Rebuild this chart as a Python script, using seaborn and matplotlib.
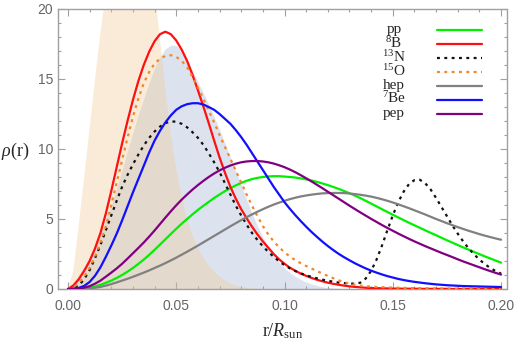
import matplotlib
matplotlib.use("Agg")
import numpy as np
import pandas as pd
import matplotlib.pyplot as plt
from matplotlib.lines import Line2D
from matplotlib.ticker import MultipleLocator, FormatStrFormatter
import seaborn as sns


# Radius grid r/R_sun (sampling points of the read-off curves)
r = np.linspace(0.0, 0.2, 81)

# Neutrino production densities rho(r)
pp = [0, 0.005, 0.02, 0.05, 0.1, 0.18, 0.3, 0.44, 0.6, 0.79,
      1.0, 1.24, 1.5, 1.79, 2.1, 2.44, 2.8, 3.17, 3.55, 3.93,
      4.3, 4.66, 5.0, 5.33, 5.65, 5.94, 6.22, 6.5, 6.75, 6.99,
      7.2, 7.4, 7.58, 7.73, 7.85, 7.94, 8.0, 8.04, 8.06, 8.06,
      8.03, 8.0, 7.96, 7.9, 7.83, 7.75, 7.65, 7.54, 7.42, 7.29,
      7.15, 7.0, 6.84, 6.67, 6.49, 6.3, 6.1, 5.9, 5.7, 5.5,
      5.3, 5.11, 4.92, 4.73, 4.55, 4.37, 4.19, 4.01, 3.84, 3.66,
      3.48, 3.31, 3.14, 2.97, 2.81, 2.65, 2.49, 2.33, 2.18, 2.03, 1.88]
b8 = [0, 0.25, 0.7, 1.3, 2.0, 2.9, 4.0, 5.4, 7.0, 8.7,
      10.4, 12.0, 13.5, 14.85, 16.0, 16.95, 17.7, 18.2, 18.38, 18.2,
      17.75, 17.1, 16.3, 15.3, 14.2, 13.05, 11.85, 10.6, 9.4, 8.3,
      7.3, 6.45, 5.7, 5.05, 4.45, 3.9, 3.4, 2.95, 2.5, 2.12,
      1.8, 1.52, 1.3, 1.1, 0.94, 0.79, 0.66, 0.55, 0.45, 0.37,
      0.3, 0.24, 0.19, 0.15, 0.12, 0.09, 0.07, 0.06, 0.05, 0.04,
      0.03, 0.03, 0.02, 0.02, 0.02, 0.01, 0.01, 0.01, 0.01, 0.01,
      0.01, 0, 0, 0, 0, 0, 0, 0, 0, 0, 0]
n13 = [0, 0.05, 0.25, 0.7, 1.35, 2.2, 3.15, 4.2, 5.25, 6.3,
       7.3, 8.15, 8.9, 9.6, 10.25, 10.8, 11.25, 11.6, 11.85, 11.97,
       11.95, 11.8, 11.55, 11.2, 10.8, 10.3, 9.7, 9.05, 8.35, 7.55,
       6.75, 5.95, 5.25, 4.6, 4.0, 3.5, 3.05, 2.65, 2.3, 1.98,
       1.7, 1.47, 1.28, 1.12, 0.98, 0.86, 0.76, 0.67, 0.59, 0.52,
       0.46, 0.42, 0.39, 0.38, 0.45, 0.75, 1.3, 2.1, 3.1, 4.2,
       5.25, 6.2, 6.95, 7.5, 7.78, 7.8, 7.55, 7.1, 6.5, 5.85,
       5.2, 4.55, 3.95, 3.4, 2.9, 2.48, 2.1, 1.78, 1.5, 1.28, 1.1]
o15 = [0, 0.13, 0.42, 0.88, 1.5, 2.3, 3.3, 4.5, 6.0, 7.6,
       9.2, 10.8, 12.3, 13.6, 14.7, 15.5, 16.1, 16.45, 16.65, 16.7,
       16.58, 16.3, 15.85, 15.15, 14.4, 13.6, 12.75, 11.9, 11.0, 10.15,
       9.3, 8.45, 7.6, 6.75, 5.95, 5.2, 4.5, 3.9, 3.4, 2.98,
       2.62, 2.32, 2.06, 1.84, 1.64, 1.46, 1.28, 1.1, 0.93, 0.77,
       0.62, 0.49, 0.38, 0.3, 0.24, 0.2, 0.17, 0.15, 0.13, 0.11,
       0.1, 0.09, 0.08, 0.07, 0.06, 0.06, 0.05, 0.05, 0.04, 0.04,
       0.04, 0.03, 0.03, 0.03, 0.03, 0.02, 0.02, 0.02, 0.02, 0.02, 0.02]
hep = [0, 0.0, 0.01, 0.03, 0.05, 0.09, 0.15, 0.24, 0.35, 0.47,
       0.6, 0.73, 0.87, 1.02, 1.17, 1.33, 1.5, 1.67, 1.85, 2.04,
       2.24, 2.45, 2.66, 2.88, 3.1, 3.33, 3.56, 3.79, 4.02, 4.25,
       4.48, 4.7, 4.92, 5.13, 5.33, 5.52, 5.7, 5.87, 6.03, 6.17,
       6.3, 6.42, 6.52, 6.61, 6.68, 6.74, 6.79, 6.83, 6.85, 6.86,
       6.86, 6.85, 6.82, 6.78, 6.73, 6.67, 6.6, 6.51, 6.41, 6.3,
       6.18, 6.05, 5.91, 5.77, 5.62, 5.47, 5.32, 5.16, 5.0, 4.85,
       4.7, 4.56, 4.42, 4.29, 4.16, 4.04, 3.92, 3.81, 3.71, 3.61, 3.52]
be7 = [0, 0.02, 0.08, 0.22, 0.5, 0.95, 1.55, 2.3, 3.1, 3.95,
       4.9, 5.9, 6.9, 7.85, 8.8, 9.75, 10.6, 11.3, 11.9, 12.4,
       12.8, 13.05, 13.2, 13.27, 13.27, 13.18, 13.0, 12.8, 12.5, 12.15,
       11.8, 11.35, 10.85, 10.3, 9.7, 9.1, 8.5, 7.9, 7.3, 6.75,
       6.2, 5.72, 5.27, 4.85, 4.45, 4.07, 3.72, 3.38, 3.07, 2.78,
       2.51, 2.27, 2.05, 1.84, 1.65, 1.47, 1.31, 1.17, 1.04, 0.92,
       0.82, 0.72, 0.64, 0.57, 0.51, 0.46, 0.41, 0.37, 0.33, 0.3,
       0.27, 0.25, 0.23, 0.21, 0.2, 0.19, 0.18, 0.17, 0.16, 0.15, 0.14]
pep = [0, 0.005, 0.03, 0.1, 0.2, 0.38, 0.6, 0.88, 1.17, 1.47,
       1.8, 2.17, 2.55, 2.93, 3.32, 3.74, 4.18, 4.64, 5.1, 5.55,
       5.98, 6.38, 6.75, 7.1, 7.42, 7.72, 8.0, 8.25, 8.47, 8.66,
       8.82, 8.95, 9.05, 9.11, 9.14, 9.14, 9.11, 9.05, 8.96, 8.84,
       8.7, 8.53, 8.34, 8.13, 7.91, 7.68, 7.44, 7.2, 6.95, 6.7,
       6.45, 6.2, 5.95, 5.71, 5.47, 5.24, 5.01, 4.79, 4.57, 4.36,
       4.16, 3.96, 3.77, 3.58, 3.4, 3.23, 3.06, 2.9, 2.74, 2.58,
       2.43, 2.28, 2.12, 1.97, 1.83, 1.69, 1.55, 1.41, 1.28, 1.15, 1.03]

# Shaded background distributions
shade_tan = [0, 1.3, 4.6, 8.0, 11.5, 15.0, 18.3, 21.2, 23.6, 25.5,
             27.0, 27.9, 28.2, 27.8, 26.6, 24.5, 21.5, 17.8, 14.2, 11.1,
             8.6, 6.6, 5.0, 3.85, 2.95, 2.25, 1.7, 1.25, 0.9, 0.62,
             0.4, 0.25, 0.15, 0.08, 0.04, 0.02] + [0] * 45
shade_blue = [0, 0.45, 1.0, 1.6, 2.3, 3.1, 4.0, 4.95, 6.0, 7.2,
              8.5, 9.85, 11.2, 12.45, 13.6, 14.75, 15.8, 16.6, 17.15, 17.42,
              17.4, 17.0, 16.3, 15.6, 14.8, 14.0, 13.2, 12.3, 11.4, 10.4,
              9.4, 8.4, 7.4, 6.4, 5.4, 4.5, 3.7, 3.0, 2.4, 1.9,
              1.5, 1.17, 0.9, 0.68, 0.5, 0.36, 0.25, 0.16, 0.1, 0.07,
              0.05, 0.03, 0.02, 0.01] + [0] * 27

labels = ["pp", "$^{8}$B", "$^{13}$N", "$^{15}$O", "hep", "$^{7}$Be", "pep"]
series = [pp, b8, n13, o15, hep, be7, pep]
colors = ["#00f000", "#ff1010", "#111111", "#f0882a", "#808080", "#1010ff", "#800080"]
dotted = [False, False, True, True, False, False, False]

for vals in series + [shade_tan, shade_blue]:
    assert len(vals) == len(r)

df = pd.concat(
    [pd.DataFrame({"r": r, "rho": vals, "source": lab})
     for lab, vals in zip(labels, series)],
    ignore_index=True
)

sns.set_style("ticks")
plt.rcParams["font.family"] = ["Liberation Sans", "DejaVu Sans"]
plt.rcParams["mathtext.fontset"] = "custom"
plt.rcParams["mathtext.rm"] = "Liberation Serif"
plt.rcParams["mathtext.it"] = "Liberation Serif:italic"

fig = plt.figure(figsize=(5.18, 3.41), dpi=100)
ax = fig.add_axes([58 / 518, 52 / 341, 448.5 / 518, 280 / 341])

# background fills
ax.fill_between(r, shade_blue, color="#8fa3c7", alpha=0.3, lw=0, zorder=1)
ax.fill_between(r, shade_tan, color="#f0c890", alpha=0.35, lw=0, zorder=1.1)

lw = 1.6
dash_map = {lab: ((1.3, 2.0) if d else "") for lab, d in zip(labels, dotted)}
sns.lineplot(
    data=df, x="r", y="rho", hue="source", style="source",
    palette=dict(zip(labels, colors)), dashes=dash_map,
    hue_order=labels, style_order=labels,
    lw=lw, legend=False, sort=False, ax=ax, zorder=3
)
for line in ax.get_lines():
    line.set_dash_capstyle("butt")

ax.set_xlim(-0.0046, 0.2025)
ax.set_ylim(0, 20)

# Mathematica-like frame
frame_col = "#a0a0a0"
for sp in ax.spines.values():
    sp.set_color(frame_col)
    sp.set_linewidth(1.0)
ax.xaxis.set_major_locator(MultipleLocator(0.05))
ax.xaxis.set_minor_locator(MultipleLocator(0.01))
ax.yaxis.set_major_locator(MultipleLocator(5))
ax.yaxis.set_minor_locator(MultipleLocator(1))
ax.xaxis.set_major_formatter(FormatStrFormatter("%.2f"))
ax.yaxis.set_major_formatter(FormatStrFormatter("%d"))
ax.tick_params(which="both", direction="in", top=True, right=True,
               color=frame_col, width=0.8, labelcolor="#666666",
               labelsize=10)
ax.tick_params(which="major", length=5)
ax.tick_params(which="minor", length=2.5)
ax.tick_params(axis="x", which="major", pad=7.5)
ax.tick_params(axis="y", which="major", pad=3.5)

serif = "Liberation Serif"
ax.set_xlabel("r/$R_{\\mathrm{sun}}$", family=serif, fontsize=13, labelpad=6)
ax.set_ylabel("")
fig.text(1 / 518, (341 - 151) / 341, "$\\rho$(r)", family=serif,
         fontsize=13, ha="left", va="center")

# legend: label on the left, line sample on the right
y0 = 0.925
for i, (lab, col, d) in enumerate(zip(labels, colors, dotted)):
    yy = y0 - 0.05 * i
    ax.text(0.749, yy - 0.0125, lab, transform=ax.transAxes, family=serif,
            fontsize=11, ha="center", va="baseline", zorder=5)
    key = Line2D([0.844, 0.946], [yy, yy], transform=ax.transAxes,
                 color=col, lw=lw, dash_capstyle="butt", zorder=5)
    if d:
        key.set_dashes((1.3, 2.0))
    ax.add_line(key)

plt.savefig("out.png", dpi=100)
